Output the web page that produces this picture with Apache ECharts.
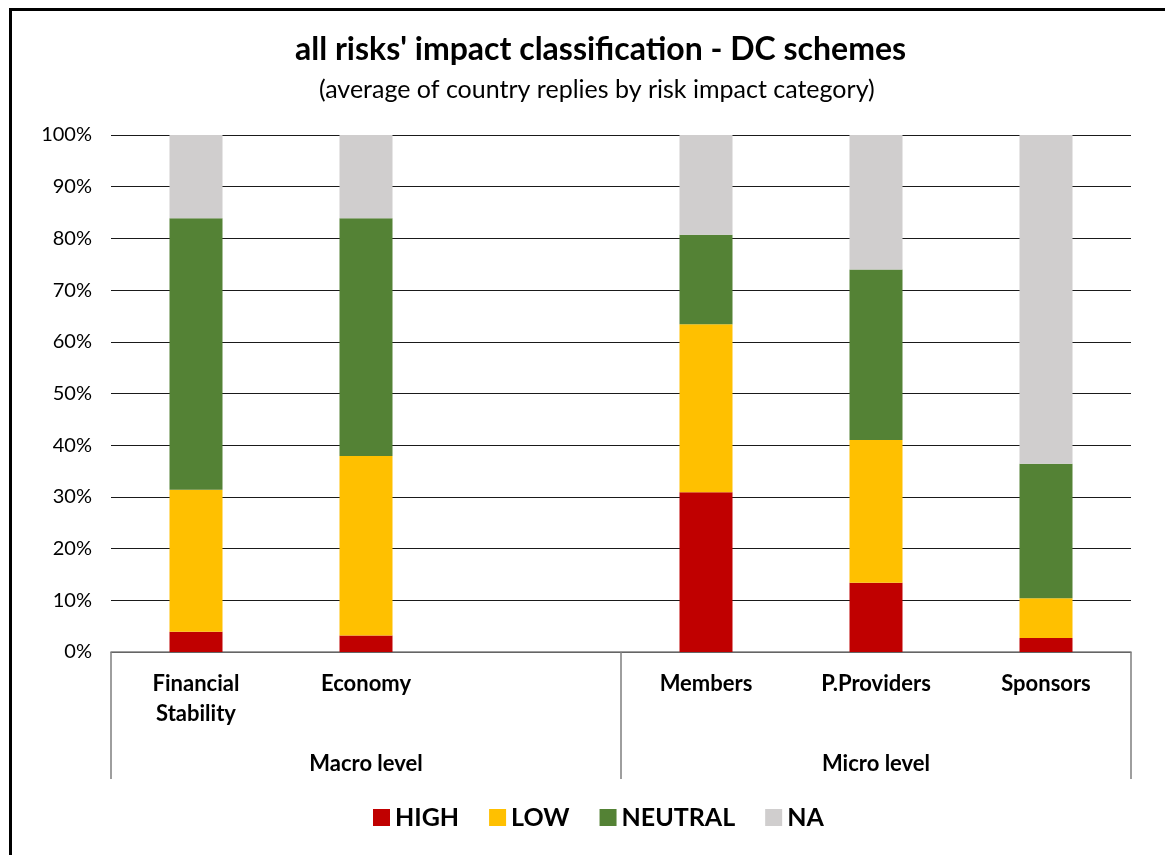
<!DOCTYPE html>
<html>
<head>
<meta charset="utf-8">
<script src="https://cdn.jsdelivr.net/npm/echarts@6/dist/echarts.min.js"></script>
<style>
html,body{margin:0;padding:0;background:#fff;}
#chart{width:1165px;height:855px;}
</style>
</head>
<body>
<div id="chart"></div>
<script>
// ---- data ----
const categories = ['Financial\nStability', 'Economy', '', 'Members', 'P.Providers', 'Sponsors'];
const groups = ['Macro level', 'Micro level'];
const seriesNames = ['HIGH', 'LOW', 'NEUTRAL', 'NA'];
const high    = [3.9, 3.2, null, 30.9, 13.4, 2.7];
const low     = [27.5, 34.7, null, 32.5, 27.6, 7.7];
const neutral = [52.5, 46.0, null, 17.3, 33.0, 26.0];
const na      = [16.1, 16.1, null, 19.3, 26.0, 63.6];
const yTicks  = [0, 10, 20, 30, 40, 50, 60, 70, 80, 90, 100];

const colors = ['#C00000', '#FFC000', '#548235', '#D0CECE'];
const FONT = 'Lato, "Open Sans", sans-serif';

const chart = echarts.init(document.getElementById('chart'));
const values = [high, low, neutral, na];

chart.setOption({
  animation: false,
  textStyle: { fontFamily: FONT },
  title: [
    { text: "all risks' impact classification - DC schemes", left: 290, top: 29,
      textStyle: { fontFamily: FONT, fontSize: 32, fontWeight: 'bold', color: '#000' } },
    { text: '(average of country replies by risk impact category)', left: 314, top: 72,
      textStyle: { fontFamily: FONT, fontSize: 25, fontWeight: 'normal', color: '#000' } }
  ],
  legend: {
    data: seriesNames,
    bottom: 20,
    left: 368,
    itemWidth: 17, itemHeight: 17, itemGap: 30,
    icon: 'rect',
    textStyle: { fontFamily: FONT, fontSize: 25, fontWeight: 'bold', color: '#000' }
  },
  grid: { left: 111, right: 34, top: 135, bottom: 203, containLabel: false },
  xAxis: [
    {
      type: 'category', data: categories, position: 'bottom',
      axisLine: { show: true, lineStyle: { color: '#7f7f7f', width: 1.5 } },
      axisTick: { show: false },
      axisLabel: { interval: 0, margin: 17, lineHeight: 30, fontFamily: FONT, fontSize: 22,
                   fontWeight: 'bold', color: '#000' }
    },
    {
      type: 'category', data: groups, position: 'bottom', offset: 0,
      axisLine: { show: false },
      axisTick: { show: true, length: 127, lineStyle: { color: '#7f7f7f', width: 1.5 } },
      axisLabel: { interval: 0, margin: 101, fontFamily: FONT, fontSize: 22,
                   fontWeight: 'bold', color: '#000' }
    }
  ],
  yAxis: {
    type: 'value', min: yTicks[0], max: yTicks[yTicks.length - 1], interval: 10,
    axisLine: { show: false }, axisTick: { show: false },
    splitLine: { lineStyle: { color: '#1a1a1a', width: 1.2 } },
    axisLabel: { formatter: '{value}%', margin: 19, fontFamily: FONT, fontSize: 20, color: '#000' }
  },
  series: seriesNames.map((n, i) => ({
    name: n, type: 'bar', stack: 'total', barWidth: 53, xAxisIndex: 0,
    itemStyle: { color: colors[i] },
    data: values[i]
  })),
  graphic: [
    { type: 'polyline', silent: true, z: 100,
      shape: { points: [[10.5, 855], [10.5, 9.5], [1165, 9.5]] },
      style: { stroke: '#000', lineWidth: 3, fill: null } }
  ]
});
</script>
</body>
</html>
